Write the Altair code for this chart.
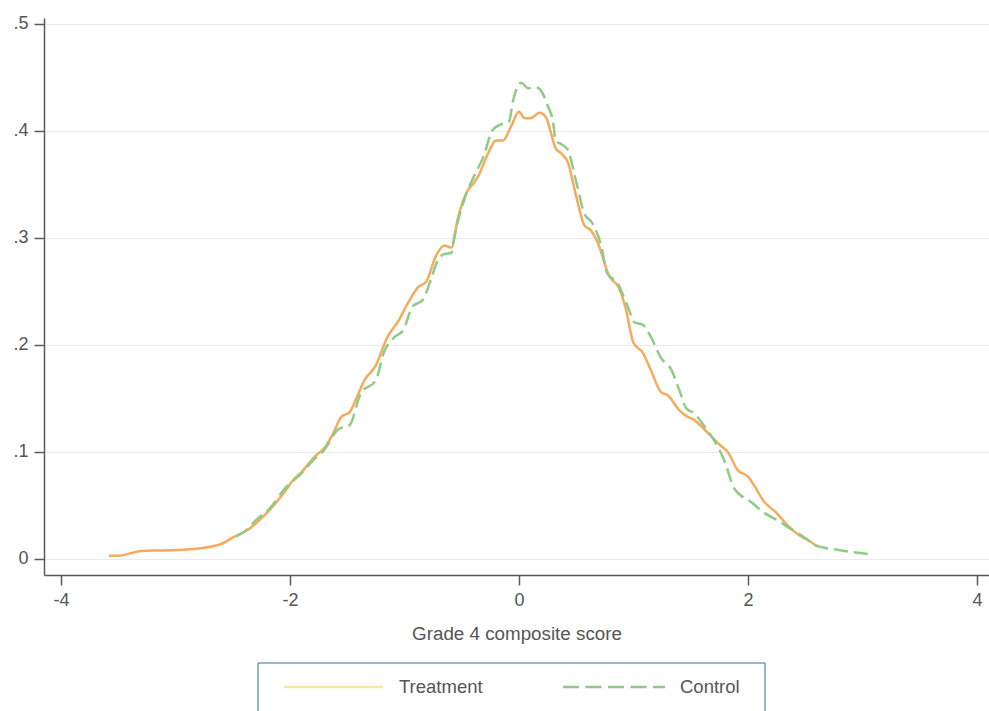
import altair as alt
import pandas as pd

# ---- data ----
groups = ["Treatment", "Control"]

treat_x = [-3.58, -3.50, -3.30, -3.10, -2.84, -2.60, -2.50, -2.37, -2.25, -2.15,
           -2.05, -1.97, -1.90, -1.79, -1.69, -1.62, -1.55, -1.48, -1.42, -1.35,
           -1.25, -1.15, -1.05, -0.97, -0.88, -0.81, -0.73, -0.65, -0.59, -0.53,
           -0.46, -0.39, -0.35, -0.27, -0.20, -0.14, -0.07, 0.00, 0.05, 0.10,
           0.18, 0.24, 0.28, 0.32, 0.37, 0.43, 0.48, 0.53, 0.57, 0.63,
           0.69, 0.79, 0.87, 0.93, 1.00, 1.08, 1.15, 1.24, 1.30, 1.40,
           1.47, 1.53, 1.62, 1.74, 1.83, 1.91, 2.00, 2.07, 2.13, 2.24,
           2.36, 2.45, 2.52, 2.60]
treat_y = [0.003, 0.003, 0.0075, 0.008, 0.0093, 0.014, 0.020, 0.027, 0.038, 0.049,
           0.062, 0.074, 0.081, 0.095, 0.105, 0.118, 0.133, 0.137, 0.150, 0.167,
           0.181, 0.207, 0.223, 0.239, 0.254, 0.259, 0.282, 0.293, 0.291, 0.320,
           0.342, 0.352, 0.359, 0.379, 0.391, 0.391, 0.404, 0.418, 0.412, 0.412,
           0.417, 0.412, 0.398, 0.384, 0.379, 0.370, 0.348, 0.326, 0.312, 0.307,
           0.295, 0.264, 0.254, 0.235, 0.202, 0.193, 0.177, 0.156, 0.153, 0.139,
           0.133, 0.130, 0.121, 0.108, 0.099, 0.083, 0.077, 0.066, 0.055, 0.044,
           0.030, 0.022, 0.018, 0.012]

ctrl_x = [-2.47, -2.36, -2.31, -2.17, -2.05, -1.90, -1.80, -1.70, -1.58, -1.48,
          -1.38, -1.25, -1.18, -1.09, -1.01, -0.93, -0.84, -0.77, -0.71, -0.65,
          -0.59, -0.57, -0.48, -0.40, -0.31, -0.23, -0.16, -0.09, -0.05, 0.02,
          0.08, 0.15, 0.19, 0.25, 0.30, 0.32, 0.38, 0.43, 0.47, 0.51,
          0.57, 0.64, 0.72, 0.77, 0.86, 0.95, 1.01, 1.08, 1.15, 1.24,
          1.33, 1.40, 1.46, 1.53, 1.62, 1.72, 1.79, 1.88, 1.91, 2.03,
          2.13, 2.26, 2.36, 2.52, 2.58, 2.79, 3.10]
ctrl_y = [0.021, 0.029, 0.035, 0.048, 0.065, 0.080, 0.092, 0.102, 0.121, 0.125,
          0.155, 0.167, 0.193, 0.207, 0.214, 0.236, 0.242, 0.261, 0.279, 0.285,
          0.286, 0.298, 0.335, 0.356, 0.376, 0.401, 0.406, 0.408, 0.429, 0.445,
          0.440, 0.441, 0.438, 0.424, 0.407, 0.391, 0.387, 0.382, 0.366, 0.348,
          0.323, 0.314, 0.292, 0.267, 0.258, 0.236, 0.221, 0.219, 0.208, 0.188,
          0.177, 0.158, 0.141, 0.136, 0.124, 0.108, 0.093, 0.066, 0.062, 0.053,
          0.044, 0.036, 0.029, 0.018, 0.013, 0.0084, 0.004]

x_ticks = [-4, -2, 0, 2, 4]
y_ticks = [0, 0.1, 0.2, 0.3, 0.4, 0.5]
x_title = "Grade 4 composite score"

ORANGE = "#F5AA5C"
GREEN = "#8ECC85"
LEGEND_YELLOW = "#FDE5A2"
TEXT = "#555555"
AXIS = "#5a5a5a"
FONT = "Liberation Sans"

treat = pd.DataFrame({"x": treat_x, "y": treat_y, "g": groups[0]})
ctrl = pd.DataFrame({"x": ctrl_x, "y": ctrl_y, "g": groups[1]})

xscale = alt.Scale(domain=[-4.148, 4.105], nice=False, zero=False)
yscale = alt.Scale(domain=[-0.0150, 0.5056], nice=False, zero=False)

xaxis = alt.Axis(values=x_ticks, title=x_title, grid=False, tickSize=10,
                 labelPadding=6, titlePadding=15, labelFontSize=18,
                 titleFontSize=18.8, titleFontWeight="normal",
                 labelExpr="'' + datum.value")
yaxis = alt.Axis(values=y_ticks, title=None, grid=True, tickSize=10,
                 labelPadding=6, labelFontSize=18,
                 labelExpr="datum.value == 0 ? '0' : replace(format(datum.value, '.1f'), '0.', '.')")

treat_line = alt.Chart(treat).mark_line(
    color=ORANGE, strokeWidth=2.5, interpolate="monotone"
).encode(
    x=alt.X("x:Q", scale=xscale, axis=xaxis),
    y=alt.Y("y:Q", scale=yscale, axis=yaxis),
)

ctrl_line = alt.Chart(ctrl).mark_line(
    color=GREEN, strokeWidth=2.5, strokeDash=[14, 6], interpolate="monotone"
).encode(
    x=alt.X("x:Q", scale=xscale),
    y=alt.Y("y:Q", scale=yscale),
)

one = pd.DataFrame({"k": [0]})

legend_box = alt.Chart(one).mark_rect(
    fill="white", stroke="#2F6EA8", strokeWidth=1
).encode(x=alt.value(214), x2=alt.value(721), y=alt.value(645), y2=alt.value(700))

leg_t_line = alt.Chart(one).mark_rule(color=LEGEND_YELLOW, strokeWidth=2.5).encode(
    x=alt.value(240), x2=alt.value(339), y=alt.value(669))
leg_c_line = alt.Chart(one).mark_rule(color=GREEN, strokeWidth=2.5, strokeDash=[16, 6.5]).encode(
    x=alt.value(519), x2=alt.value(621), y=alt.value(669))
leg_t_text = alt.Chart(one).mark_text(
    text=groups[0], align="left", baseline="middle", fontSize=18.5, font=FONT, color=TEXT
).encode(x=alt.value(355), y=alt.value(669))
leg_c_text = alt.Chart(one).mark_text(
    text=groups[1], align="left", baseline="middle", fontSize=18.5, font=FONT, color=TEXT
).encode(x=alt.value(636), y=alt.value(669))

chart = alt.layer(
    treat_line, ctrl_line, legend_box, leg_t_line, leg_c_line, leg_t_text, leg_c_text
).properties(
    width=945, height=557,
    autosize="none",
    padding={"left": 44, "top": 18, "right": 0, "bottom": 136},
    background="white",
).configure_view(
    stroke=None
).configure_axis(
    domainColor=AXIS, domainWidth=1.5, tickColor=AXIS, tickWidth=1.5,
    labelColor=TEXT, titleColor=TEXT, labelFont=FONT, titleFont=FONT,
    gridColor="#EBEBEB", gridWidth=1,
)

chart.save("out.html", embed_options={"renderer": "svg", "actions": False})
